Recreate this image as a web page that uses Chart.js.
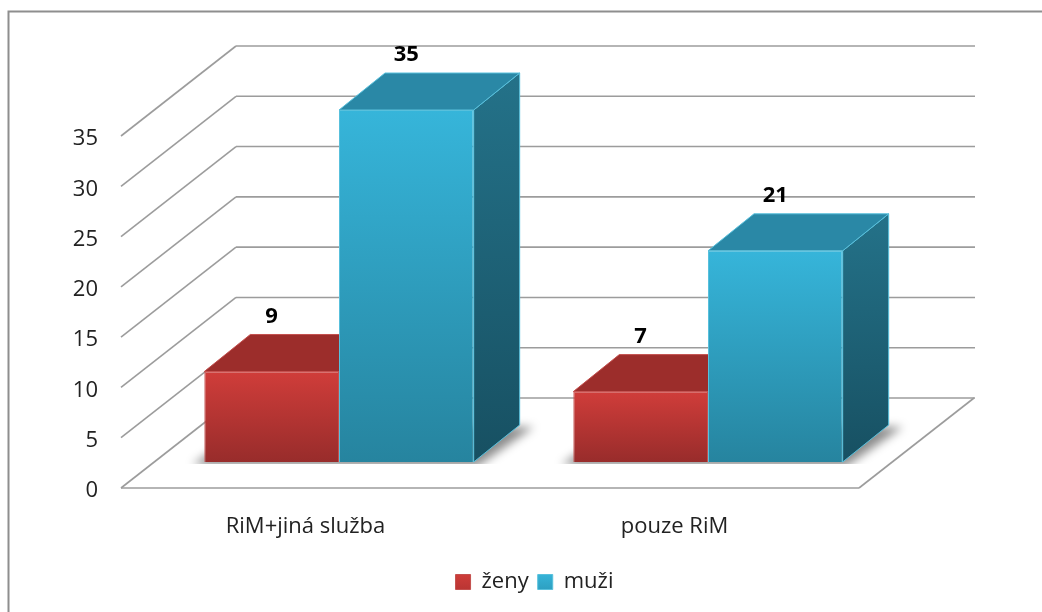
<!DOCTYPE html>
<html>
<head>
<meta charset="utf-8">
<style>
  html, body { margin: 0; padding: 0; background: #fff; }
  canvas { display: block; }
</style>
<script src="https://cdn.jsdelivr.net/npm/chart.js@4"></script>
</head>
<body>
<canvas id="chart" width="1042" height="612"></canvas>
<script>
const categories = ['RiM+jiná služba', 'pouze RiM'];
const zeny = [9, 7];
const muzi = [35, 21];
const seriesNames = ['ženy', 'muži'];
const yMax = 35;
const yStep = 5;

// hloubka 3D prostoru (pixely)
const wallDX = 115, wallDY = 90;   // stena grafu
const barDX = 46, barDY = 37;      // hloubka sloupce
const barShiftX = 33.5, barShiftY = 26; // posun sloupcu od predni hrany podlahy
const fontName = '"Open Sans", sans-serif';
const lineColor = '#9c9c9c';

const redFace = { solid: '#b93533', top: '#d03d3a', bottom: '#982c2b', lid: '#9c2d2b', sideTop: '#7c2422', sideBottom: '#5c1a19', edge: '#c4504e' };
const blueFace = { solid: '#2e9fc0', top: '#36b5da', bottom: '#26849f', lid: '#2a88a6', sideTop: '#247289', sideBottom: '#175062', edge: '#58c0dc' };
const faces = [redFace, blueFace];

function poly(ctx, pts, fill) {
    ctx.beginPath();
    pts.forEach((p, i) => i ? ctx.lineTo(p[0], p[1]) : ctx.moveTo(p[0], p[1]));
    ctx.closePath();
    if (fill) {
        ctx.fillStyle = fill;
        ctx.fill();
    }
}

function line(ctx, x1, y1, x2, y2) {
    ctx.beginPath();
    ctx.moveTo(x1, y1);
    ctx.lineTo(x2, y2);
    ctx.stroke();
}

function frontGradient(context) {
    const style = faces[context.datasetIndex];
    if (!context.parsed) return style.solid;
    const y = context.chart.scales.y;
    const y0 = y.getPixelForValue(context.parsed.y);
    const y1 = y.getPixelForValue(0);
    // pred prvnim layoutem jeste nejsou souradnice
    if (!isFinite(y0) || !isFinite(y1)) return style.solid;
    const g = context.chart.ctx.createLinearGradient(0, y0, 0, y1);
    g.addColorStop(0, style.top);
    g.addColorStop(1, style.bottom);
    return g;
}

// ctverecky v legende maji vlastni prechod
function legendLabels(chart) {
    return Chart.defaults.plugins.legend.labels.generateLabels(chart).map((item, i) => {
        const g = chart.ctx.createLinearGradient(0, 573, 0, 590);
        g.addColorStop(0, faces[i].top);
        g.addColorStop(1, faces[i].solid);
        return { ...item, fillStyle: g, strokeStyle: faces[i].edge, lineWidth: 1 };
    });
}

// ram okolo grafu, steny a podlaha
const backdrop = {
    id: 'backdrop',
    beforeDraw(chart) {
        const ctx = chart.ctx;
        ctx.save();
        ctx.fillStyle = '#fff';
        ctx.fillRect(0, 0, chart.width, chart.height);
        ctx.strokeStyle = '#8e8e8e';
        ctx.lineWidth = 2;
        ctx.beginPath();
        ctx.moveTo(8.5, chart.height);
        ctx.lineTo(8.5, 11.5);
        ctx.lineTo(chart.width, 11.5);
        ctx.stroke();

        const area = chart.chartArea;
        const y = chart.scales.y;
        ctx.strokeStyle = lineColor;
        ctx.lineWidth = 1.6;
        y.ticks.forEach(t => {
            const py = y.getPixelForValue(t.value);
            line(ctx, area.left, py, area.left + wallDX, py - wallDY);
            line(ctx, area.left + wallDX, py - wallDY, area.right + wallDX + 1, py - wallDY);
        });
        line(ctx, area.left, area.bottom, area.right, area.bottom);
        line(ctx, area.right, area.bottom, area.right + wallDX, area.bottom - wallDY);
        ctx.restore();
    }
};

// stin, vrchni a bocni strany sloupcu, pak posun prednich sten
const bars3d = {
    id: 'bars3d',
    beforeDatasetsDraw(chart) {
        const ctx = chart.ctx;
        const red = chart.getDatasetMeta(0).data;
        const blue = chart.getDatasetMeta(1).data;

        ctx.save();
        ctx.translate(barShiftX, -barShiftY);
        red.forEach((r, i) => {
            const b = blue[i];
            const x0 = r.x - r.width / 2, x1 = b.x + b.width / 2, base = b.base;
            ctx.save();
            ctx.beginPath();
            ctx.rect(x0 - 40, base - 60, x1 - x0 + 140, 62);
            ctx.clip();
            ctx.filter = 'blur(5px)';
            poly(ctx, [[x0 - 12, base + 3], [x1 + 4, base + 4], [x1 + barDX + 14, base - barDY + 2], [x0 + barDX, base - barDY]], 'rgba(0,0,0,0.45)');
            ctx.restore();
        });
        [red, blue].forEach((bars, ds) => {
            const style = faces[ds];
            bars.forEach(el => {
                const x0 = el.x - el.width / 2, x1 = el.x + el.width / 2;
                const side = ctx.createLinearGradient(0, el.y - barDY, 0, el.base);
                side.addColorStop(0, style.sideTop);
                side.addColorStop(1, style.sideBottom);
                poly(ctx, [[x1, el.y], [x1 + barDX, el.y - barDY], [x1 + barDX, el.base - barDY], [x1, el.base]], side);
                ctx.strokeStyle = style.edge;
                ctx.lineWidth = 1;
                ctx.stroke();
                poly(ctx, [[x0, el.y], [x0 + barDX, el.y - barDY], [x1 + barDX, el.y - barDY], [x1, el.y]], style.lid);
                ctx.stroke();
            });
        });
    },
    afterDatasetsDraw(chart) {
        const ctx = chart.ctx;
        ctx.fillStyle = '#000';
        ctx.font = 'bold 22px ' + fontName;
        ctx.textAlign = 'center';
        ctx.textBaseline = 'middle';
        chart.data.datasets.forEach((ds, d) => {
            chart.getDatasetMeta(d).data.forEach((el, i) => {
                ctx.fillText(ds.data[i], el.x, el.y - barDY - 18);
            });
        });
        ctx.restore();
    },
    afterLayout(chart) {
        // legenda neni v Excelu presne na stredu
        const legend = chart.legend;
        legend.left = 0;
        legend.right = 1069;
        legend.top = 562;
    }
};

new Chart(document.getElementById('chart'), {
    type: 'bar',
    data: {
        labels: categories,
        datasets: [
            { label: seriesNames[0], data: zeny, backgroundColor: frontGradient, borderColor: redFace.edge, borderWidth: 1, clip: false },
            { label: seriesNames[1], data: muzi, backgroundColor: frontGradient, borderColor: blueFace.edge, borderWidth: 1, clip: false }
        ]
    },
    options: {
        responsive: false,
        animation: false,
        categoryPercentage: 0.73,
        barPercentage: 1,
        layout: { padding: { top: 136, right: 183 } },
        plugins: {
            tooltip: { enabled: false },
            legend: {
                position: 'bottom',
                labels: {
                    boxWidth: 15,
                    boxHeight: 15,
                    padding: 9,
                    color: '#222',
                    font: { family: fontName, size: 22 },
                    generateLabels: legendLabels
                }
            }
        },
        scales: {
            x: {
                grid: { display: false, drawTicks: false },
                border: { display: false },
                ticks: { color: '#222', padding: 26, font: { family: fontName, size: 22 } },
                afterFit(s) { s.height = 612 - 488 - s.chart.legend.height; }
            },
            y: {
                min: 0,
                max: yMax,
                grid: { display: false, drawTicks: false },
                border: { display: false },
                ticks: { stepSize: yStep, color: '#222', padding: 23, labelOffset: 3, font: { family: fontName, size: 22 } },
                afterFit(s) { s.width = 121; }
            }
        }
    },
    plugins: [backdrop, bars3d]
});
</script>
</body>
</html>
